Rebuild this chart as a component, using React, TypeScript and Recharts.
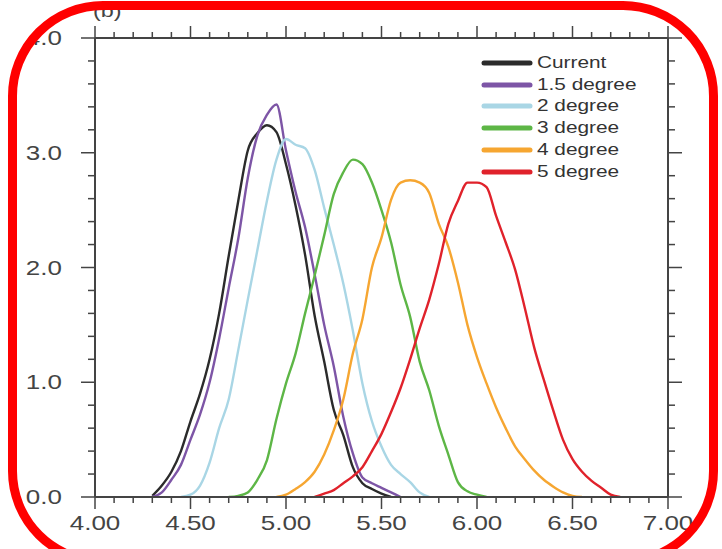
import { LineChart, Line, XAxis, YAxis, Legend } from "recharts";

// sample points (temperature index) shared by all curves
const grid = [
  4.25, 4.3, 4.35, 4.4, 4.45, 4.5, 4.55, 4.6, 4.65, 4.7,
  4.75, 4.8, 4.85, 4.9, 4.95, 5.0, 5.05, 5.1, 5.15, 5.2,
  5.25, 5.3, 5.35, 5.4, 5.45, 5.5, 5.55, 5.6, 5.65, 5.7,
  5.75, 5.8, 5.85, 5.9, 5.95, 6.0, 6.05, 6.1, 6.15, 6.2,
  6.25, 6.3, 6.35, 6.4, 6.45, 6.5, 6.55, 6.6, 6.65, 6.7,
  6.75,
];

const _ = null;

const current = [
  _, 0.01, 0.1, 0.22, 0.4, 0.66, 0.9, 1.2, 1.6, 2.1,
  2.58, 3.02, 3.17, 3.24, 3.18, 2.9, 2.54, 2.11, 1.58, 1.18,
  0.76, 0.54, 0.26, 0.12, 0.07, 0.03, 0, _, _, _,
  _, _, _, _, _, _, _, _, _, _,
  _, _, _, _, _, _, _, _, _, _,
  _,
];

const deg15 = [
  _, 0, 0.04, 0.15, 0.28, 0.5, 0.72, 1.0, 1.38, 1.82,
  2.25, 2.78, 3.15, 3.33, 3.42, 3.02, 2.66, 2.35, 1.94, 1.5,
  1.14, 0.7, 0.38, 0.17, 0.12, 0.08, 0.04, 0, _, _,
  _, _, _, _, _, _, _, _, _, _,
  _, _, _, _, _, _, _, _, _, _,
  _,
];

const deg2 = [
  _, _, _, _, 0, 0.02, 0.1, 0.3, 0.6, 0.85,
  1.28, 1.72, 2.15, 2.58, 2.94, 3.12, 3.07, 3.04, 2.85, 2.52,
  2.2, 1.86, 1.45, 0.99, 0.66, 0.44, 0.28, 0.2, 0.13, 0.04,
  0, _, _, _, _, _, _, _, _, _,
  _, _, _, _, _, _, _, _, _, _,
  _,
];

const deg3 = [
  _, _, _, _, _, _, _, _, _, 0,
  0.01, 0.04, 0.15, 0.32, 0.68, 0.99, 1.25, 1.6, 1.93, 2.28,
  2.64, 2.83, 2.94, 2.9, 2.74, 2.5, 2.22, 1.85, 1.57, 1.18,
  0.93, 0.62, 0.37, 0.13, 0.05, 0.02, 0, _, _, _,
  _, _, _, _, _, _, _, _, _, _,
  _,
];

const deg4 = [
  _, _, _, _, _, _, _, _, _, _,
  _, _, _, _, 0, 0.02, 0.07, 0.13, 0.22, 0.37,
  0.58, 0.85, 1.25, 1.55, 2.0, 2.26, 2.59, 2.74, 2.76, 2.74,
  2.65, 2.38, 2.18, 1.87, 1.5, 1.22, 0.99, 0.78, 0.6, 0.44,
  0.33, 0.23, 0.15, 0.09, 0.04, 0.01, 0, _, _, _,
  _,
];

const deg5 = [
  _, _, _, _, _, _, _, _, _, _,
  _, _, _, _, _, _, _, _, 0, 0.03,
  0.06, 0.12, 0.18, 0.26, 0.4, 0.55, 0.74, 0.95, 1.2, 1.47,
  1.72, 2.03, 2.38, 2.58, 2.74, 2.74, 2.7, 2.45, 2.22, 1.98,
  1.65, 1.3, 1.02, 0.75, 0.5, 0.33, 0.22, 0.14, 0.08, 0.02,
  0,
];

const xTicks = [
  4.0, 4.1, 4.2, 4.3, 4.4, 4.5, 4.6, 4.7, 4.8, 4.9,
  5.0, 5.1, 5.2, 5.3, 5.4, 5.5, 5.6, 5.7, 5.8, 5.9,
  6.0, 6.1, 6.2, 6.3, 6.4, 6.5, 6.6, 6.7, 6.8, 6.9, 7.0,
];
const xMajor = [4.0, 4.5, 5.0, 5.5, 6.0, 6.5, 7.0];

const yTicks = [
  0, 0.2, 0.4, 0.6, 0.8, 1.0, 1.2, 1.4, 1.6, 1.8,
  2.0, 2.2, 2.4, 2.6, 2.8, 3.0, 3.2, 3.4, 3.6, 3.8, 4.0,
];
const yMajor = [0, 1.0, 2.0, 3.0, 4.0];

const series = [
  { key: "current", name: "Current", color: "#2b2b2b", values: current },
  { key: "deg15", name: "1.5 degree", color: "#7d55a6", values: deg15 },
  { key: "deg2", name: "2 degree", color: "#a9d6e5", values: deg2 },
  { key: "deg3", name: "3 degree", color: "#5db646", values: deg3 },
  { key: "deg4", name: "4 degree", color: "#f6a631", values: deg4 },
  { key: "deg5", name: "5 degree", color: "#e0222b", values: deg5 },
];

const rows = grid.map((x, i) => {
  const row: Record<string, number | null> = { x };
  series.forEach((s) => (row[s.key] = s.values[i]));
  return row;
});

const AXIS = "#444";
const FONT = "'Liberation Sans', Arial, Helvetica, sans-serif";

const isMajor = (v: number, majors: number[]) => majors.some((m) => Math.abs(m - v) < 1e-6);

function BottomTick({ x, y, payload }: any) {
  const major = isMajor(payload.value, xMajor);
  return (
    <g>
      <line x1={x} y1={y} x2={x} y2={y + (major ? 12 : 6)} stroke={AXIS} strokeWidth={1.5} />
      {major && (
        <text
          transform={`translate(${x},${y + 33}) scale(1.3,1)`}
          textAnchor="middle"
          fontSize={20}
          fontFamily={FONT}
          fill={AXIS}
        >
          {payload.value.toFixed(2)}
        </text>
      )}
    </g>
  );
}

function TopTick({ x, y, payload }: any) {
  const major = isMajor(payload.value, xMajor);
  return <line x1={x} y1={y} x2={x} y2={y - (major ? 12 : 6)} stroke={AXIS} strokeWidth={1.5} />;
}

function LeftTick({ x, y, payload }: any) {
  const major = isMajor(payload.value, yMajor);
  return (
    <g>
      <line x1={x} y1={y} x2={x - (major ? 14 : 7)} y2={y} stroke={AXIS} strokeWidth={1.5} />
      {major && (
        <text
          transform={`translate(${x - 33},${y + 7}) scale(1.3,1)`}
          textAnchor="end"
          fontSize={20}
          fontFamily={FONT}
          fill={AXIS}
        >
          {payload.value.toFixed(1)}
        </text>
      )}
    </g>
  );
}

function RightTick({ x, y, payload }: any) {
  const major = isMajor(payload.value, yMajor);
  return <line x1={x} y1={y} x2={x + (major ? 14 : 7)} y2={y} stroke={AXIS} strokeWidth={1.5} />;
}

function LegendBox() {
  return (
    <div style={{ fontFamily: FONT, fontSize: 16, color: "#333" }}>
      {series.map((s) => (
        <div key={s.key} style={{ display: "flex", alignItems: "center", height: 21.8 }}>
          <svg width={52} height={8} style={{ display: "block" }}>
            <line x1={3} y1={4} x2={49} y2={4} stroke={s.color} strokeWidth={5} strokeLinecap="round" />
          </svg>
          <span style={{ display: "inline-block", marginLeft: 4, transform: "scaleX(1.3)", transformOrigin: "left center", whiteSpace: "nowrap" }}>
            {s.name}
          </span>
        </div>
      ))}
    </div>
  );
}

export default function App() {
  return (
    <div
      style={{
        position: "absolute",
        left: 0,
        top: 0,
        width: 722,
        height: 549,
        overflow: "hidden",
        background: "#fff",
      }}
    >
      <LineChart width={722} height={549} data={rows} margin={{ top: 37, right: 53, bottom: 51, left: 94 }}>
        <XAxis
          xAxisId="bottom"
          dataKey="x"
          type="number"
          domain={[4, 7]}
          ticks={xTicks}
          interval={0}
          height={1}
          tickSize={0}
          tickMargin={0}
          tick={<BottomTick />}
          axisLine={{ stroke: AXIS, strokeWidth: 2 }}
          allowDataOverflow
        />
        <XAxis
          xAxisId="top"
          orientation="top"
          dataKey="x"
          type="number"
          domain={[4, 7]}
          ticks={xTicks}
          interval={0}
          height={1}
          tickSize={0}
          tickMargin={0}
          tick={<TopTick />}
          axisLine={{ stroke: AXIS, strokeWidth: 2 }}
          allowDataOverflow
        />
        <YAxis
          yAxisId="left"
          type="number"
          domain={[0, 4]}
          ticks={yTicks}
          interval={0}
          width={1}
          tickSize={0}
          tickMargin={0}
          tick={<LeftTick />}
          axisLine={{ stroke: AXIS, strokeWidth: 2 }}
          allowDataOverflow
        />
        <YAxis
          yAxisId="right"
          orientation="right"
          type="number"
          domain={[0, 4]}
          ticks={yTicks}
          interval={0}
          width={1}
          tickSize={0}
          tickMargin={0}
          tick={<RightTick />}
          axisLine={{ stroke: AXIS, strokeWidth: 2 }}
          allowDataOverflow
        />
        <Legend
          layout="vertical"
          align="center"
          verticalAlign="middle"
          content={<LegendBox />}
          wrapperStyle={{ top: 52, left: 481, width: 220 }}
        />
        {series.map((s) => (
          <Line
            key={s.key}
            xAxisId="bottom"
            yAxisId="left"
            type="monotone"
            dataKey={s.key}
            name={s.name}
            stroke={s.color}
            strokeWidth={2.4}
            dot={false}
            isAnimationActive={false}
          />
        ))}
      </LineChart>
      <div
        style={{
          position: "absolute",
          left: 93,
          top: 1,
          fontFamily: FONT,
          fontSize: 18,
          color: "#444",
          transform: "scaleX(1.3)",
          transformOrigin: "left top",
        }}
      >
        (b)
      </div>
      <div
        style={{
          position: "absolute",
          left: 8,
          top: 1,
          width: 710,
          height: 565,
          boxSizing: "border-box",
          border: "9px solid #ff0000",
          borderRadius: 95,
        }}
      />
    </div>
  );
}
